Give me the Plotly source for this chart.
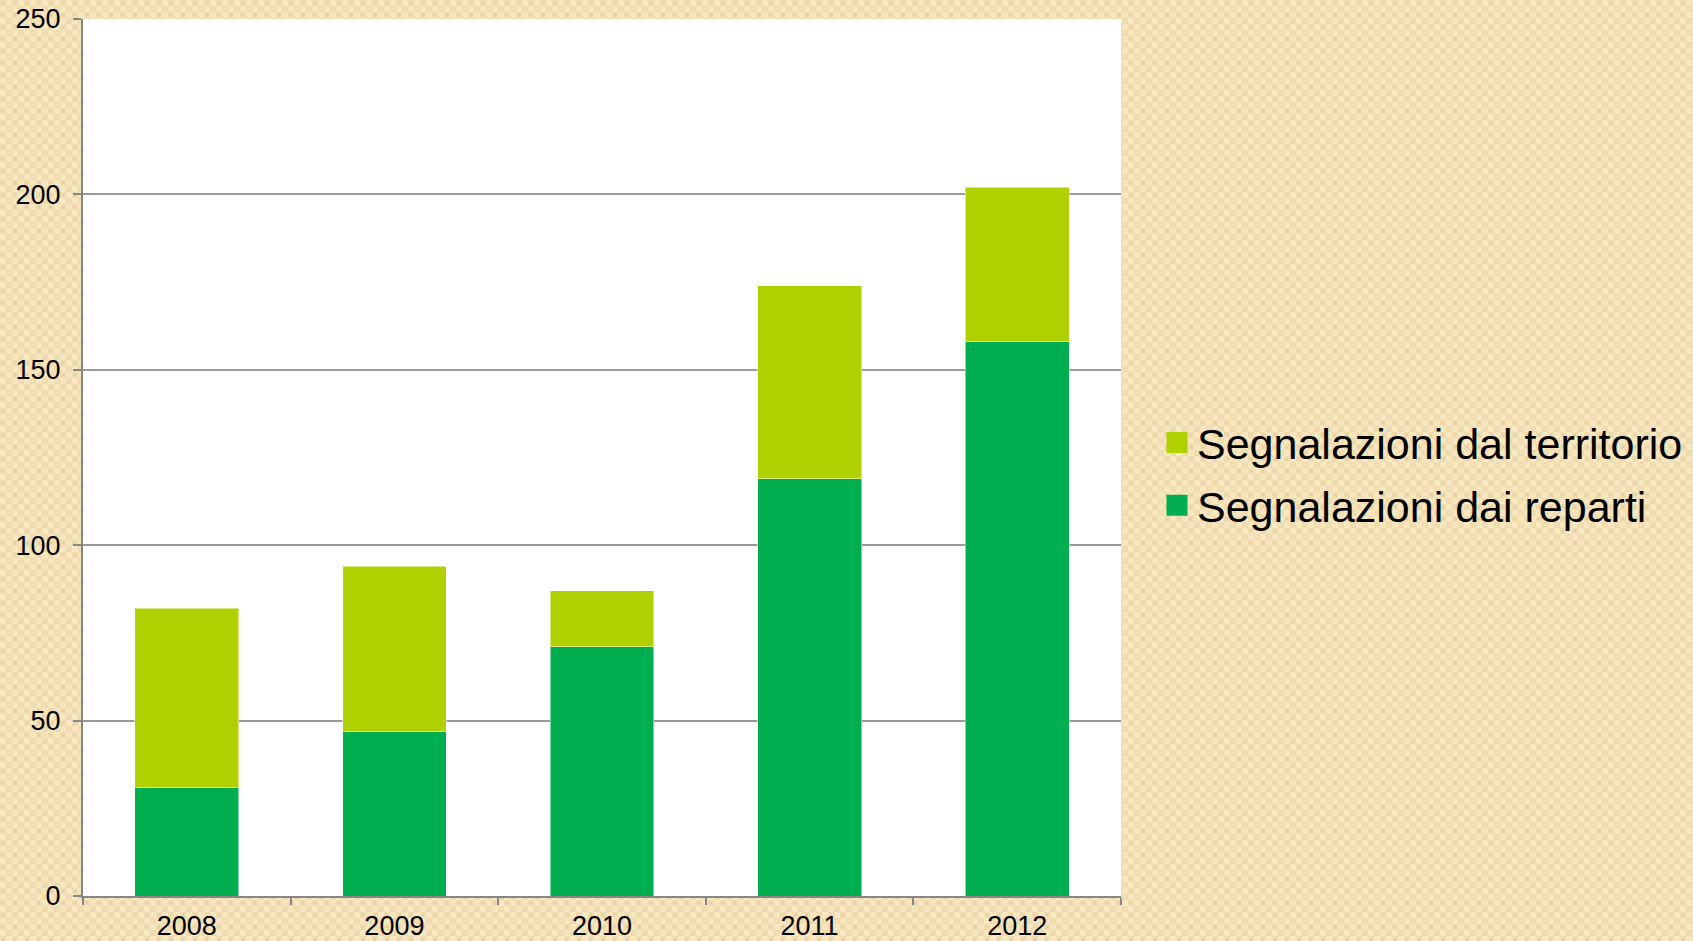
import base64
import plotly.graph_objects as go

years = ["2008", "2009", "2010", "2011", "2012"]
reparti = [31, 47, 71, 119, 158]
territorio = [51, 47, 16, 55, 44]
series_names = ["Segnalazioni dai reparti", "Segnalazioni dal territorio"]
colors = ["#00AE4F", "#B0D000"]

W, H = 1693, 941
L, R, T, B = 83, 572, 19, 45
pw, ph = W - L - R, H - T - B

svg = """<svg xmlns='http://www.w3.org/2000/svg' width='1693' height='941'>
<defs><pattern id='p' width='12' height='12' patternUnits='userSpaceOnUse'>
<rect width='12' height='12' fill='#F7E6BE'/>
<rect x='0' y='0' width='6' height='6' fill='#EEDBAF'/>
<rect x='6' y='6' width='6' height='6' fill='#EEDBAF'/>
<rect x='2' y='2' width='2' height='2' fill='#E4CFA0'/>
<rect x='8' y='8' width='2' height='2' fill='#F2E1B6'/>
</pattern></defs>
<rect width='1693' height='941' fill='url(#p)'/></svg>"""
src = "data:image/svg+xml;base64," + base64.b64encode(svg.encode()).decode()

fig = go.Figure()
fig.add_trace(go.Bar(x=years, y=reparti, name=series_names[0], marker_color=colors[0],
                     marker_line=dict(color="rgba(255,255,255,0.5)", width=1), showlegend=False))
fig.add_trace(go.Bar(x=years, y=territorio, name=series_names[1], marker_color=colors[1],
                     marker_line=dict(color="rgba(255,255,255,0.5)", width=1), showlegend=False))
# legend entries
fig.add_trace(go.Scatter(x=[None], y=[None], mode="markers", name=series_names[1], legendgroup="b",
                         marker=dict(symbol="square", size=17, color=colors[1],
                                     line=dict(color=colors[1], width=5))))
fig.add_trace(go.Scatter(x=[None], y=[None], mode="markers", name=series_names[0], legendgroup="a",
                         marker=dict(symbol="square", size=17, color=colors[0],
                                     line=dict(color=colors[0], width=5))))

fig.update_layout(
    width=W, height=H,
    barmode="stack", bargap=0.5,
    margin=dict(l=L, r=R, t=T, b=B, pad=0, autoexpand=False),
    paper_bgcolor="#F3E2B8", plot_bgcolor="rgba(0,0,0,0)",
    font=dict(family="Liberation Sans, Arial, sans-serif", color="black", size=27),
    images=[dict(source=src, xref="paper", yref="paper", x=-L / pw, y=1 + T / ph,
                 sizex=W / pw, sizey=H / ph, sizing="stretch", layer="below",
                 xanchor="left", yanchor="top")],
    shapes=[dict(type="rect", xref="paper", yref="paper", x0=0, x1=1, y0=0, y1=1,
                 fillcolor="white", line_width=0, layer="below")],
    legend=dict(xref="container", yref="container", x=1157 / W, y=1 - 474 / H,
                xanchor="left", yanchor="middle", font=dict(size=43),
                traceorder="grouped", tracegroupgap=4, bgcolor="rgba(0,0,0,0)",
                itemsizing="trace"),
    showlegend=True,
)
fig.update_xaxes(showline=True, linecolor="#868686", linewidth=2, ticks="outside",
                 tickson="boundaries", ticklen=7, tickcolor="#868686", tickwidth=2,
                 showgrid=False, ticklabelstandoff=5, automargin=False)
fig.update_yaxes(range=[0, 250], dtick=50, showline=True, linecolor="#868686", linewidth=2,
                 ticks="outside", ticklen=8, tickcolor="#868686", tickwidth=2,
                 showgrid=True, gridcolor="#9A9A9A", gridwidth=1.5, zeroline=False,
                 ticklabelstandoff=7, automargin=False)

fig.write_html("out.html", config={"displayModeBar": False},
               post_script="document.body.style.margin='0';")
